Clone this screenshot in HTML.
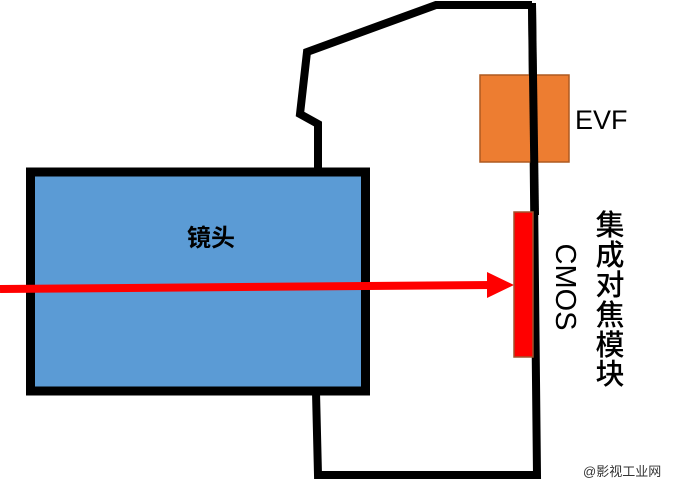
<!DOCTYPE html>
<html><head><meta charset="utf-8"><style>
html,body{margin:0;padding:0;background:#fff;}
body{width:684px;height:484px;overflow:hidden;position:relative;font-family:"Liberation Sans","Noto Sans CJK SC",sans-serif;}
</style></head><body>
<svg width="684" height="484" viewBox="0 0 684 484" xmlns="http://www.w3.org/2000/svg" style="position:absolute;left:0;top:0">
  <polyline points="318,170 318,124 300,114 307,52 436,5 532,5" fill="none" stroke="#000" stroke-width="8"/>
  <path d="M532,3 L537,475 L318,475 L316,392" fill="none" stroke="#000" stroke-width="8"/>
  <rect x="30.5" y="172" width="335" height="219" fill="#5B9BD5" stroke="#000" stroke-width="9"/>
  <rect x="480" y="75" width="89" height="87" fill="#ED7D31" stroke="#AE5A21" stroke-width="1.5"/>
  <line x1="532" y1="5" x2="535" y2="215" stroke="#000" stroke-width="8"/>
  <line x1="0" y1="289" x2="492" y2="285" stroke="#f00" stroke-width="8"/>
  <polygon points="487,272 514,285 487,298" fill="#f00"/>
  <rect x="514" y="212" width="19" height="145" fill="#f00" stroke="#A0522D" stroke-width="1.5"/>
  <text x="211" y="246" font-size="24" font-weight="bold" text-anchor="middle" font-family="Liberation Sans,Noto Sans CJK SC,sans-serif">镜头</text>
  <text x="575" y="129" font-size="27" font-family="Liberation Sans,sans-serif">EVF</text>
  <text transform="translate(556,287) rotate(90)" font-size="29" text-anchor="middle" font-family="Liberation Sans,sans-serif">CMOS</text>
  <g font-size="29" font-weight="500" text-anchor="middle" font-family="Noto Sans CJK SC,sans-serif">
    <text x="610" y="235">集</text><text x="610" y="265">成</text><text x="610" y="295">对</text>
    <text x="610" y="325">焦</text><text x="610" y="355">模</text><text x="610" y="384">块</text>
  </g>
  <text x="583" y="476" font-size="13" fill="#333" font-family="Liberation Sans,Noto Sans CJK SC,sans-serif">@影视工业网</text>
</svg>
</body></html>
